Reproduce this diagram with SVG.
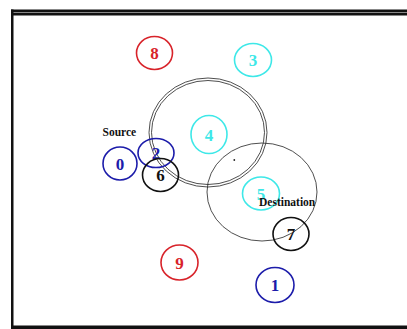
<svg xmlns="http://www.w3.org/2000/svg" width="407" height="329" viewBox="0 0 407 329">
  <style>
    .node { fill: none; stroke-width: 1.6; }
    .lbl { font-family: "Liberation Serif", "Times New Roman", serif; font-size: 17px; font-weight: bold; text-anchor: middle; }
    .tag { font-family: "Liberation Serif", "Times New Roman", serif; font-size: 11.5px; font-weight: bold; fill: #111; }
    .red { stroke: #d8232a; } .redt { fill: #d8232a; }
    .cyan { stroke: #3ee8e8; } .cyant { fill: #3ee8e8; }
    .blue { stroke: #1c1caa; } .bluet { fill: #1c1caa; }
    .blk { stroke: #111; } .blkt { fill: #111; }
    .range { fill: none; stroke: #222; stroke-width: 0.8; }
  </style>
  <rect width="407" height="329" fill="#fff"/>

  <!-- frame -->
  <rect x="11" y="9.5" width="396" height="6" fill="#111"/>
  <line x1="11" y1="12.5" x2="407" y2="12.5" stroke="#888" stroke-width="1"/>
  <rect x="11" y="9.5" width="2.5" height="319.5" fill="#111"/>
  <rect x="11" y="325.5" width="396" height="3.5" fill="#111"/>

  <!-- transmission ranges -->
  <g id="ranges">
    <ellipse class="range" cx="208" cy="132.5" rx="59" ry="54.5"/>
    <ellipse class="range" cx="208" cy="132.5" rx="56.5" ry="52"/>
    <ellipse class="range" cx="262" cy="192" rx="55" ry="49"/>
    <circle cx="234.3" cy="160" r="0.9" fill="#222"/>
  </g>

  <g id="connectors"></g>

  <g id="node8"><ellipse class="node red" cx="154.5" cy="53" rx="18" ry="16.5"/><text class="lbl redt" x="154.5" y="59">8</text></g>
  <g id="node3"><ellipse class="node cyan" cx="253" cy="60" rx="18.5" ry="16.5"/><text class="lbl cyant" x="253" y="66">3</text></g>
  <g id="node4"><ellipse class="node cyan" cx="209" cy="134.5" rx="18" ry="19"/><text class="lbl cyant" x="209" y="140.5">4</text></g>
  <g id="node0"><ellipse class="node blue" cx="120" cy="163.5" rx="17" ry="16.5"/><text class="lbl bluet" x="120" y="169.5">0</text></g>
  <g id="node2"><ellipse class="node blue" cx="156" cy="153" rx="18" ry="14.5"/><text class="lbl bluet" x="156" y="159">2</text></g>
  <g id="node6"><ellipse class="node blk" cx="160.5" cy="175" rx="18" ry="16.5"/><text class="lbl blkt" x="160.5" y="181">6</text></g>
  <g id="node5"><ellipse class="node cyan" cx="261" cy="193.5" rx="18.5" ry="16.5"/><text class="lbl cyant" x="261" y="199.5">5</text></g>
  <g id="node7"><ellipse class="node blk" cx="291" cy="234" rx="18" ry="16.5"/><text class="lbl blkt" x="291" y="240">7</text></g>
  <g id="node9"><ellipse class="node red" cx="179.5" cy="262.5" rx="18.5" ry="17.5"/><text class="lbl redt" x="179.5" y="268.5">9</text></g>
  <g id="node1"><ellipse class="node blue" cx="275" cy="285" rx="19" ry="17.5"/><text class="lbl bluet" x="275" y="291">1</text></g>

  <text class="tag" x="102.5" y="136">Source</text>
  <text class="tag" x="259" y="205.5">Destination</text>
</svg>
